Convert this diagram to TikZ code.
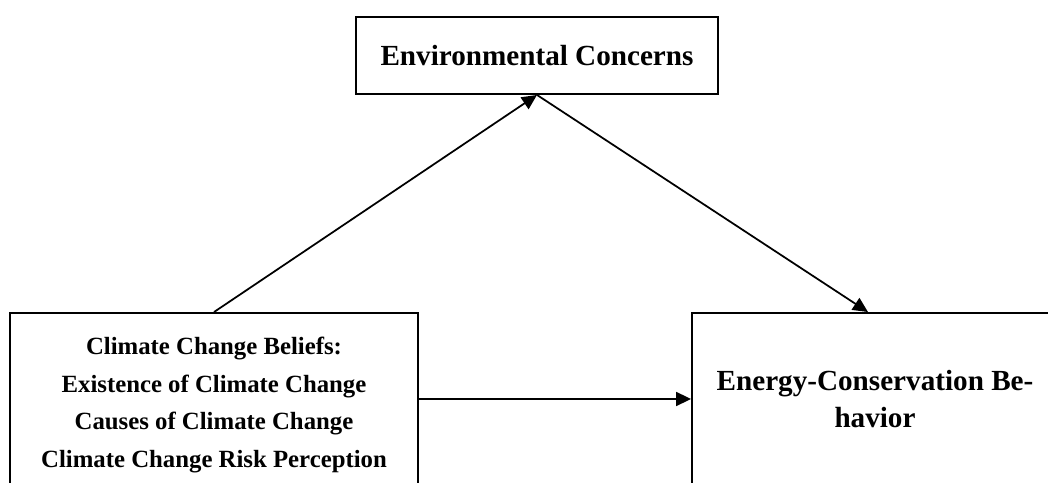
\documentclass[tikz,border=0pt]{standalone}
\usepackage{fontspec}
\setmainfont{Liberation Serif}
\usetikzlibrary{arrows.meta,positioning}

\tikzset{
  box/.style={draw,line width=1.1pt,inner sep=0pt,align=center},
  link/.style={line width=1pt,-{Triangle[length=0.3cm,width=0.28cm]}},
  bigtxt/.style={font=\fontsize{16.6}{21}\selectfont\bfseries},
  smalltxt/.style={font=\fontsize{14.1}{21.4}\selectfont\bfseries},
}

\begin{document}
\begin{tikzpicture}[x=0.02cm,y=0.02cm]
  \useasboundingbox (0,0) rectangle (1048,483);
  \clip (0,0) rectangle (1048,483);

  % mediator
  \node[box,bigtxt,minimum width=7.24cm,minimum height=1.54cm] (concern) at (537,427.5) {Environmental Concerns};

  % predictor and outcome (both run off the bottom)
  \node[box,smalltxt,minimum width=8.16cm,minimum height=3.68cm] (beliefs) at (214,78) {Climate Change Beliefs:\\Existence of Climate Change\\Causes of Climate Change\\Climate Change Risk Perception};
  \node[box,bigtxt,minimum width=7.32cm,minimum height=3.44cm] (behavior) at (875,84) {Energy-Conservation Be-\\havior};

  \draw[link] (beliefs.north) -- (concern.south);
  \draw[link] (concern.south) -- ([xshift=-0.14cm]behavior.north);
  \draw[link] (beliefs.east |- behavior.west) -- (behavior.west);

\end{tikzpicture}
\end{document}
